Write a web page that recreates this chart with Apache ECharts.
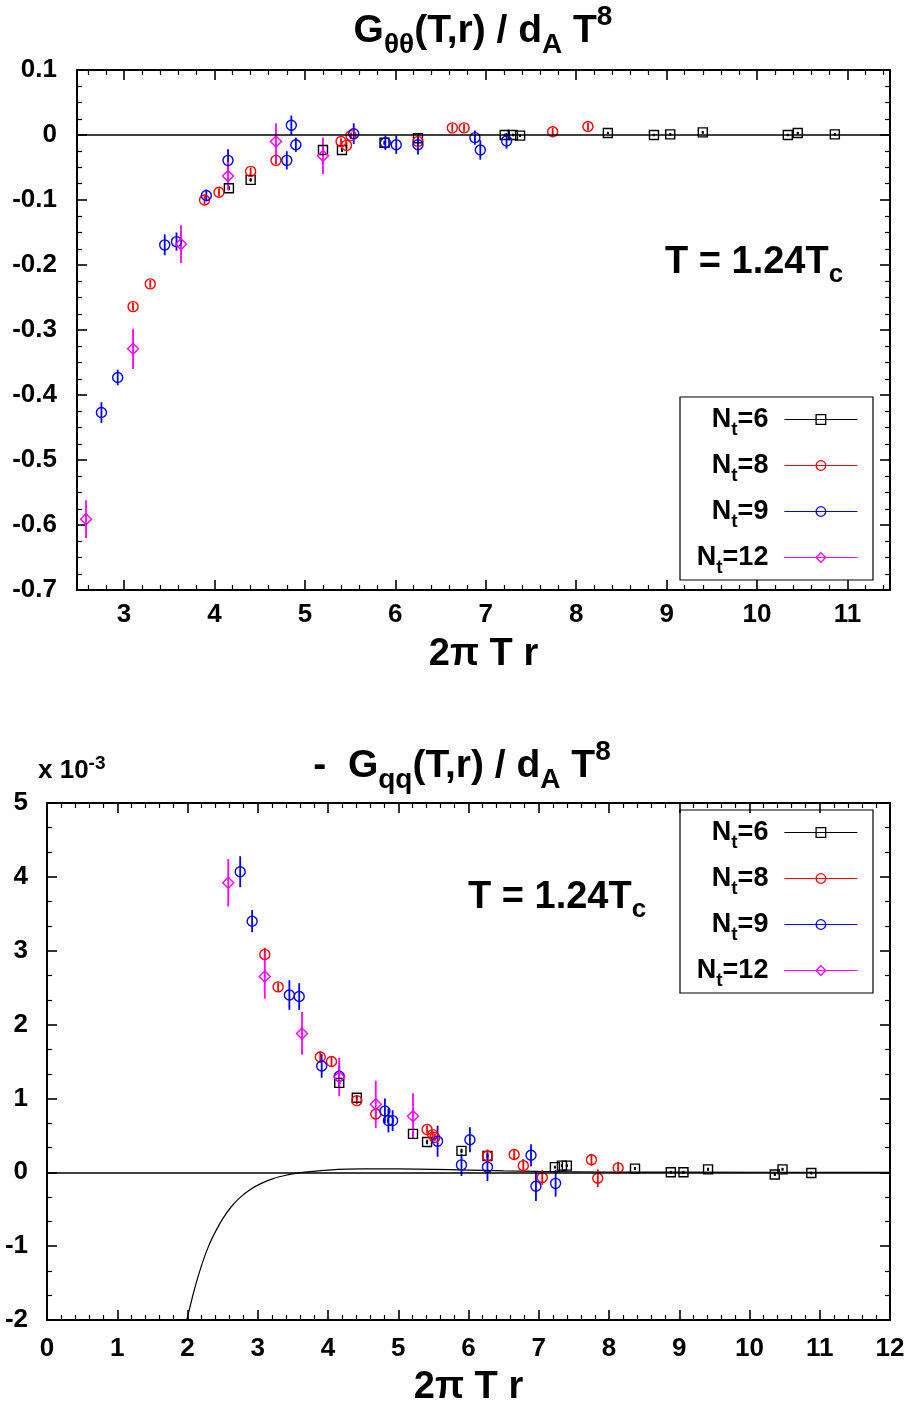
<!DOCTYPE html>
<html>
<head>
<meta charset="utf-8">
<title>G_thetatheta and G_qq correlators</title>
<script src="https://cdn.jsdelivr.net/npm/echarts@6/dist/echarts.min.js"></script>
<style>
html, body { margin: 0; padding: 0; background: #fff; }
#main { width: 912px; height: 1408px; }
</style>
</head>
<body>
<div id="main"></div>
<script>
// ---- data (x = 2 pi T r) ----
// upper panel: G_thetatheta / d_A T^8
var topNt6X = [4.16, 4.40, 5.20, 5.41, 5.88, 6.25, 7.21, 7.30, 7.38, 8.35, 8.86, 9.04, 9.40, 10.34, 10.45, 10.86];
var topNt6Y = [-0.082, -0.069, -0.023, -0.023, -0.012, -0.005, 0.000, 0.000, -0.001, 0.003, 0.000, 0.001, 0.004, 0.000, 0.003, 0.001];
var topNt6E = [0.003, 0.003, 0.003, 0.003, 0.003, 0.003, 0.002, 0.002, 0.002, 0.002, 0.002, 0.002, 0.002, 0.002, 0.002, 0.002];

var topNt8X = [3.10, 3.29, 3.89, 4.05, 4.40, 4.68, 5.40, 5.46, 5.51, 6.25, 6.63, 6.76, 7.74, 8.13];
var topNt8Y = [-0.264, -0.229, -0.100, -0.088, -0.056, -0.039, -0.010, -0.016, -0.001, -0.010, 0.011, 0.011, 0.005, 0.013];
var topNt8E = [0.006, 0.006, 0.007, 0.006, 0.006, 0.006, 0.005, 0.005, 0.005, 0.006, 0.006, 0.006, 0.006, 0.006];

var topNt9X = [2.75, 2.93, 3.45, 3.58, 3.91, 4.15, 4.80, 4.85, 4.90, 5.54, 5.89, 6.01, 6.25, 6.88, 6.94, 7.23];
var topNt9Y = [-0.427, -0.373, -0.169, -0.164, -0.093, -0.039, -0.039, 0.015, -0.015, 0.002, -0.012, -0.015, -0.015, -0.004, -0.023, -0.009];
var topNt9E = [0.016, 0.012, 0.016, 0.014, 0.009, 0.017, 0.014, 0.015, 0.011, 0.016, 0.011, 0.014, 0.015, 0.011, 0.015, 0.012];

var topNt12X = [2.58, 3.10, 3.63, 4.15, 4.68, 5.20];
var topNt12Y = [-0.591, -0.329, -0.168, -0.063, -0.010, -0.032];
var topNt12E = [0.029, 0.031, 0.029, 0.022, 0.028, 0.028];

// lower panel: - G_qq / d_A T^8, in units of 1e-3
var botNt6X = [4.16, 4.41, 5.21, 5.41, 5.90, 6.27, 7.23, 7.33, 7.40, 8.37, 8.88, 9.06, 9.41, 10.36, 10.47, 10.88];
var botNt6Y = [1.21, 1.01, 0.52, 0.41, 0.29, 0.22, 0.07, 0.09, 0.09, 0.05, 0.00, 0.00, 0.04, -0.03, 0.04, -0.01];
var botNt6E = [0.03, 0.03, 0.03, 0.03, 0.03, 0.03, 0.02, 0.02, 0.02, 0.02, 0.02, 0.02, 0.02, 0.02, 0.02, 0.02];

var botNt8X = [3.10, 3.29, 3.89, 4.05, 4.41, 4.68, 5.41, 5.49, 5.52, 6.27, 6.65, 6.78, 7.05, 7.75, 7.84, 8.13];
var botNt8Y = [2.95, 2.51, 1.56, 1.50, 0.97, 0.79, 0.58, 0.51, 0.47, 0.22, 0.24, 0.09, -0.07, 0.17, -0.08, 0.06];
var botNt8E = [0.09, 0.06, 0.08, 0.06, 0.05, 0.08, 0.05, 0.05, 0.05, 0.09, 0.06, 0.09, 0.10, 0.08, 0.12, 0.08];

var botNt9X = [2.75, 2.92, 3.45, 3.59, 3.91, 4.16, 4.81, 4.86, 4.92, 5.56, 5.90, 6.02, 6.27, 6.89, 6.96, 7.24];
var botNt9Y = [4.07, 3.40, 2.40, 2.38, 1.44, 1.30, 0.83, 0.70, 0.70, 0.42, 0.10, 0.44, 0.07, 0.23, -0.19, -0.15];
var botNt9E = [0.21, 0.15, 0.20, 0.18, 0.16, 0.14, 0.17, 0.16, 0.14, 0.21, 0.15, 0.17, 0.19, 0.15, 0.20, 0.18];

var botNt12X = [2.58, 3.10, 3.63, 4.16, 4.68, 5.21];
var botNt12Y = [3.92, 2.65, 1.88, 1.29, 0.92, 0.76];
var botNt12E = [0.32, 0.30, 0.29, 0.26, 0.32, 0.31];

// thin black curve in the lower panel
var curveX = [1.99, 2.10, 2.20, 2.30, 2.40, 2.50, 2.62, 2.75, 2.90, 3.05, 3.22, 3.40, 3.55, 3.70, 4.00, 4.50, 5.00, 5.50, 6.00, 6.50, 7.00, 8.00, 9.00, 12.00];
var curveY = [-2.00, -1.58, -1.26, -1.00, -0.80, -0.63, -0.47, -0.34, -0.23, -0.15, -0.085, -0.04, -0.012, 0.005, 0.030, 0.045, 0.045, 0.040, 0.030, 0.020, 0.012, 0.004, 0.001, 0.0];

// tick labels
var topXTicks = [3, 4, 5, 6, 7, 8, 9, 10, 11];
var topXMinor = [];
for (var t = 26; t <= 114; t += 2) {
  if (t % 10 !== 0) topXMinor.push(t / 10);
}

var F = "'Liberation Sans', Arial, Helvetica, sans-serif";
var names = ['Nt=6', 'Nt=8', 'Nt=9', 'Nt=12'];
var colors = ['#000000', '#ff0000', '#0000ff', '#ff00ff'];
var symbols = ['rect', 'circle', 'circle', 'diamond'];
var symSizes = [9, 10, 10, 11];

var chart = echarts.init(document.getElementById('main'));

function markSeries (k, xs, ys, xi, yi) {
  return {
    type: 'line',
    name: names[k],
    xAxisIndex: xi,
    yAxisIndex: yi,
    data: xs.map(function (x, i) { return [x, ys[i]]; }),
    symbol: symbols[k],
    symbolSize: symSizes[k],
    showSymbol: true,
    lineStyle: { width: 0, opacity: 0 },
    itemStyle: { color: 'rgba(0,0,0,0)', borderColor: colors[k], borderWidth: 1.4 },
    silent: true,
    z: 4
  };
}

function errSeries (k, xs, ys, es, xi, yi) {
  var color = colors[k];
  var dot = k === 0;
  return {
    type: 'custom',
    name: 'err' + k + '-' + xi,
    xAxisIndex: xi,
    yAxisIndex: yi,
    silent: true,
    z: 3,
    data: xs.map(function (x, i) { return [x, ys[i] - es[i], ys[i] + es[i], ys[i]]; }),
    encode: { x: 0, y: [1, 2] },
    renderItem: function (params, api) {
      var lo = api.coord([api.value(0), api.value(1)]);
      var hi = api.coord([api.value(0), api.value(2)]);
      var kids = [{
        type: 'line',
        shape: { x1: lo[0], y1: lo[1], x2: hi[0], y2: hi[1] },
        style: { stroke: color, lineWidth: 1.8 }
      }];
      if (dot) {
        var c = api.coord([api.value(0), api.value(3)]);
        kids.push({ type: 'rect', shape: { x: c[0] - 1, y: c[1] - 1, width: 2, height: 2 }, style: { fill: color } });
      }
      return { type: 'group', children: kids };
    }
  };
}

var zeroLine = {
  silent: true,
  symbol: ['none', 'none'],
  label: { show: false },
  lineStyle: { color: '#000', width: 1.5, type: 'solid', opacity: 1 },
  data: [{ yAxis: 0 }]
};

var legendRich = {
  n: { fontFamily: F, fontWeight: 'bold', fontSize: 27, lineHeight: 40, color: '#000' },
  e: { fontFamily: F, fontWeight: 'bold', fontSize: 27, lineHeight: 40, color: '#000', padding: [0, 11, 0, 0] },
  t: { fontFamily: F, fontWeight: 'bold', fontSize: 19, lineHeight: 19, verticalAlign: 'bottom', color: '#000' }
};

function legendFor (k, top) {
  return {
    data: [{
      name: names[k],
      itemStyle: { color: 'rgba(0,0,0,0)', borderColor: colors[k], borderWidth: 1.3 },
      lineStyle: { color: colors[k], width: 1.2, opacity: 1, type: 'solid' }
    }],
    orient: 'vertical',
    align: 'right',
    right: 54,
    top: top,
    padding: 0,
    itemWidth: 73,
    itemHeight: 12,
    selectedMode: false,
    formatter: function (name) {
      return '{n|N}{t|t}{e|=' + name.split('=')[1] + '}';
    },
    textStyle: { rich: legendRich }
  };
}

var titleRich = {
  m: { fontFamily: F, fontWeight: 'bold', fontSize: 39, lineHeight: 56, color: '#000' },
  s: { fontFamily: F, fontWeight: 'bold', fontSize: 28, lineHeight: 26, verticalAlign: 'bottom', color: '#000' },
  u: { fontFamily: F, fontWeight: 'bold', fontSize: 28, lineHeight: 26, verticalAlign: 'top', color: '#000' }
};
var tcRich = {
  m: { fontFamily: F, fontWeight: 'bold', fontSize: 38, lineHeight: 50, color: '#000' },
  s: { fontFamily: F, fontWeight: 'bold', fontSize: 26, lineHeight: 26, verticalAlign: 'bottom', color: '#000' }
};
var expRich = {
  m: { fontFamily: F, fontWeight: 'bold', fontSize: 26, lineHeight: 34, color: '#000' },
  u: { fontFamily: F, fontWeight: 'bold', fontSize: 19, lineHeight: 18, verticalAlign: 'top', color: '#000' }
};

var axLine = { show: true, onZero: false, lineStyle: { color: '#000', width: 2 } };
var noLine = { show: false, onZero: false };
var majTick = { show: true, inside: true, length: 10, lineStyle: { color: '#000', width: 1.6 } };
var minTickStyle = { color: '#000', width: 1.2 };
var nameFont = { fontFamily: F, fontWeight: 'bold', fontSize: 38, color: '#000' };

var option = {
  animation: false,
  backgroundColor: '#fff',
  title: [
    { text: '{m|G}{s|θθ}{m|(T,r) / d}{s|A}{m| T}{u|8}', left: 483, top: 3, textAlign: 'center', padding: 0, textStyle: { rich: titleRich } },
    { text: '{m|-  G}{s|qq}{m|(T,r) / d}{s|A}{m| T}{u|8}', left: 462, top: 738, textAlign: 'center', padding: 0, textStyle: { rich: titleRich } },
    { text: '{m|T = 1.24T}{s|c}', left: 665, top: 238, padding: 0, textStyle: { rich: tcRich } },
    { text: '{m|T = 1.24T}{s|c}', left: 468, top: 873, padding: 0, textStyle: { rich: tcRich } },
    { text: '{m|x 10}{u|-3}', left: 38, top: 754, padding: 0, textStyle: { rich: expRich } }
  ],
  legend: [
    legendFor(0, 406), legendFor(1, 452), legendFor(2, 498), legendFor(3, 544),
    legendFor(0, 819), legendFor(1, 865), legendFor(2, 911), legendFor(3, 957)
  ],
  graphic: [
    { type: 'rect', shape: { x: 680, y: 397, width: 193, height: 183 }, style: { fill: 'none', stroke: '#000', lineWidth: 1.2 }, z: 100 },
    { type: 'rect', shape: { x: 680, y: 810, width: 193, height: 183 }, style: { fill: 'none', stroke: '#000', lineWidth: 1.2 }, z: 100 }
  ],
  grid: [
    { left: 77, top: 70, width: 813, height: 520 },
    { left: 47, top: 803, width: 843, height: 517 }
  ],
  xAxis: [
    {
      type: 'value', gridIndex: 0, position: 'bottom', min: 2.48, max: 11.47,
      axisLine: axLine, splitLine: { show: false },
      axisTick: { show: true, inside: true, length: 10, lineStyle: { color: '#000', width: 1.6 }, customValues: topXTicks },
      axisLabel: { show: true, margin: 12, customValues: topXTicks, fontFamily: F, fontWeight: 'bold', fontSize: 26, color: '#000' },
      name: '2π T r', nameLocation: 'middle', nameGap: 46, nameTextStyle: nameFont
    },
    {
      type: 'value', gridIndex: 0, position: 'bottom', min: 2.48, max: 11.47,
      axisLine: noLine, splitLine: { show: false }, axisLabel: { show: false },
      axisTick: { show: true, inside: true, length: 5, lineStyle: minTickStyle, customValues: topXMinor }
    },
    {
      type: 'value', gridIndex: 0, position: 'top', min: 2.48, max: 11.47,
      axisLine: axLine, splitLine: { show: false }, axisLabel: { show: false },
      axisTick: { show: true, inside: true, length: 10, lineStyle: { color: '#000', width: 1.6 }, customValues: topXTicks }
    },
    {
      type: 'value', gridIndex: 0, position: 'top', min: 2.48, max: 11.47,
      axisLine: noLine, splitLine: { show: false }, axisLabel: { show: false },
      axisTick: { show: true, inside: true, length: 5, lineStyle: minTickStyle, customValues: topXMinor }
    },
    {
      type: 'value', gridIndex: 1, position: 'bottom', min: 0, max: 12, interval: 1,
      axisLine: axLine, splitLine: { show: false }, axisTick: majTick,
      minorTick: { show: true, splitNumber: 5, length: 5, lineStyle: minTickStyle },
      axisLabel: { margin: 16, fontFamily: F, fontWeight: 'bold', fontSize: 26, color: '#000' },
      name: '2π T r', nameLocation: 'middle', nameGap: 49, nameTextStyle: nameFont
    },
    {
      type: 'value', gridIndex: 1, position: 'top', min: 0, max: 12, interval: 1,
      axisLine: axLine, splitLine: { show: false }, axisTick: majTick, axisLabel: { show: false },
      minorTick: { show: true, splitNumber: 5, length: 5, lineStyle: minTickStyle }
    }
  ],
  yAxis: [
    {
      type: 'value', gridIndex: 0, position: 'left', min: -0.7, max: 0.1, interval: 0.1,
      axisLine: axLine, splitLine: { show: false }, axisTick: majTick,
      minorTick: { show: true, splitNumber: 4, length: 5, lineStyle: minTickStyle },
      axisLabel: { margin: 20, fontFamily: F, fontWeight: 'bold', fontSize: 26, color: '#000',
        formatter: function (v) { return String(Math.round(v * 10) / 10); } }
    },
    {
      type: 'value', gridIndex: 0, position: 'right', min: -0.7, max: 0.1, interval: 0.1,
      axisLine: axLine, splitLine: { show: false }, axisTick: majTick, axisLabel: { show: false },
      minorTick: { show: true, splitNumber: 4, length: 5, lineStyle: minTickStyle }
    },
    {
      type: 'value', gridIndex: 1, position: 'left', min: -2, max: 5, interval: 1,
      axisLine: axLine, splitLine: { show: false }, axisTick: majTick,
      minorTick: { show: true, splitNumber: 3, length: 5, lineStyle: minTickStyle },
      axisLabel: { margin: 19, fontFamily: F, fontWeight: 'bold', fontSize: 26, color: '#000' }
    },
    {
      type: 'value', gridIndex: 1, position: 'right', min: -2, max: 5, interval: 1,
      axisLine: axLine, splitLine: { show: false }, axisTick: majTick, axisLabel: { show: false },
      minorTick: { show: true, splitNumber: 3, length: 5, lineStyle: minTickStyle }
    }
  ],
  series: []
};

var topSets = [[topNt6X, topNt6Y, topNt6E], [topNt8X, topNt8Y, topNt8E], [topNt9X, topNt9Y, topNt9E], [topNt12X, topNt12Y, topNt12E]];
var botSets = [[botNt6X, botNt6Y, botNt6E], [botNt8X, botNt8Y, botNt8E], [botNt9X, botNt9Y, botNt9E], [botNt12X, botNt12Y, botNt12E]];

// upper panel
topSets.forEach(function (s, k) {
  var m = markSeries(k, s[0], s[1], 0, 0);
  if (k === 0) m.markLine = zeroLine;
  option.series.push(errSeries(k, s[0], s[1], s[2], 0, 0));
  option.series.push(m);
});

// lower panel
option.series.push({
  type: 'line',
  name: 'curve',
  xAxisIndex: 4,
  yAxisIndex: 2,
  data: curveX.map(function (x, i) { return [x, curveY[i]]; }),
  symbol: 'none',
  showSymbol: false,
  smooth: 0.3,
  lineStyle: { color: '#000', width: 1.2 },
  silent: true,
  z: 2,
  markLine: zeroLine
});
botSets.forEach(function (s, k) {
  option.series.push(errSeries(k, s[0], s[1], s[2], 4, 2));
  option.series.push(markSeries(k, s[0], s[1], 4, 2));
});

chart.setOption(option);
</script>
</body>
</html>
